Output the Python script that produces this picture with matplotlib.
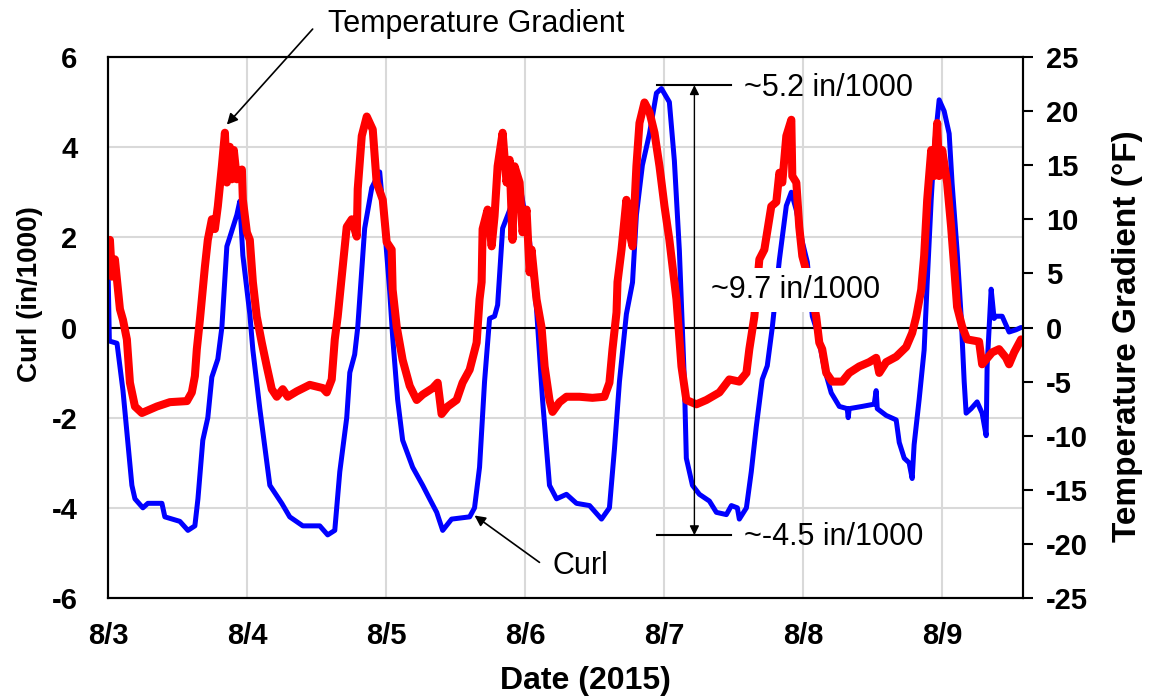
import numpy as np
import matplotlib.pyplot as plt

plt.rcParams['font.family'] = ['Liberation Sans', 'DejaVu Sans']
plt.rcParams['axes.unicode_minus'] = False

# time in days since 8/3 00:00
curl_t = [0.0, 0.01, 0.065, 0.108, 0.172, 0.194, 0.251, 0.287, 0.388, 0.409,
          0.517, 0.575, 0.625, 0.647, 0.682, 0.718, 0.747, 0.790, 0.819, 0.855,
          0.876, 0.927, 0.948, 0.970, 1.020, 1.042, 1.092, 1.164, 1.250, 1.307,
          1.401, 1.523, 1.580, 1.631, 1.667, 1.717, 1.739, 1.774, 1.796, 1.846,
          1.897, 1.954, 1.990, 2.026, 2.047, 2.083, 2.119, 2.191, 2.263, 2.313,
          2.364, 2.407, 2.471, 2.601, 2.636, 2.672, 2.708, 2.744, 2.780, 2.802,
          2.838, 2.888, 2.960, 3.032, 3.082, 3.125, 3.175, 3.226, 3.297, 3.369,
          3.463, 3.549, 3.606, 3.642, 3.678, 3.728, 3.772, 3.800, 3.843, 3.894,
          3.944, 3.980, 4.037, 4.073, 4.109, 4.131, 4.145, 4.159, 4.203, 4.253,
          4.325, 4.375, 4.447, 4.483, 4.526, 4.540, 4.591, 4.626, 4.662, 4.705,
          4.741, 4.777, 4.828, 4.878, 4.914, 4.950, 4.993, 5.029, 5.065, 5.101,
          5.151, 5.201, 5.259, 5.316, 5.323, 5.330, 5.424, 5.510, 5.524, 5.532,
          5.596, 5.668, 5.690, 5.726, 5.761, 5.783, 5.797, 5.833, 5.869, 5.891,
          5.920, 5.941, 5.977, 6.013, 6.049, 6.070, 6.106, 6.135, 6.157, 6.171,
          6.207, 6.250, 6.286, 6.315, 6.322, 6.351, 6.372, 6.386, 6.430, 6.480,
          6.530, 6.566]
curl = [1.4, -0.3, -0.35, -1.4, -3.5, -3.8, -4.0, -3.9, -3.9, -4.2,
        -4.3, -4.5, -4.4, -3.8, -2.5, -2.0, -1.1, -0.7, 0.0, 1.8,
        2.0, 2.5, 2.8, 1.6, 0.3, -0.5, -1.8, -3.5, -3.9, -4.2,
        -4.4, -4.4, -4.6, -4.5, -3.2, -2.0, -1.0, -0.6, 0.0, 2.2,
        3.1, 3.45, 2.2, 0.8, -0.2, -1.6, -2.5, -3.1, -3.5, -3.8,
        -4.1, -4.5, -4.25, -4.2, -4.0, -3.1, -1.2, 0.2, 0.25, 0.5,
        2.2, 2.6, 3.2, 1.9, 0.4, -1.6, -3.5, -3.8, -3.7, -3.9,
        -3.95, -4.25, -4.0, -2.7, -1.2, 0.3, 1.0, 2.5, 3.6, 4.3,
        5.2, 5.3, 5.0, 3.7, 1.7, -0.1, -1.2, -2.9, -3.5, -3.7,
        -3.85, -4.1, -4.15, -3.95, -4.0, -4.25, -4.0, -3.2, -2.2, -1.15,
        -0.85, 0.0, 1.5, 2.7, 3.0, 2.6, 1.9, 1.45, 0.25, -0.1,
        -0.9, -1.45, -1.75, -1.8, -2.0, -1.8, -1.75, -1.7, -1.4, -1.8,
        -1.95, -2.05, -2.55, -2.9, -3.0, -3.35, -2.6, -1.6, -0.5, 1.0,
        2.85, 3.95, 5.05, 4.8, 4.3, 3.2, 1.7, 0.25, -1.2, -1.9,
        -1.8, -1.65, -1.9, -2.4, -0.85, 0.85, 0.2, 0.25, 0.25, -0.1,
        -0.05, 0.0]

temp_t = [0.0, 0.014, 0.029, 0.050, 0.086, 0.108, 0.136, 0.158, 0.194, 0.244,
          0.352, 0.445, 0.568, 0.603, 0.625, 0.639, 0.661, 0.697, 0.718, 0.747,
          0.769, 0.790, 0.819, 0.841, 0.855, 0.876, 0.891, 0.905, 0.927, 0.963,
          0.970, 0.999, 1.020, 1.042, 1.070, 1.106, 1.142, 1.178, 1.214, 1.257,
          1.293, 1.358, 1.451, 1.545, 1.573, 1.609, 1.631, 1.652, 1.688, 1.717,
          1.753, 1.789, 1.796, 1.825, 1.861, 1.904, 1.932, 1.976, 2.004, 2.040,
          2.047, 2.076, 2.119, 2.170, 2.220, 2.263, 2.335, 2.371, 2.399, 2.443,
          2.507, 2.550, 2.601, 2.651, 2.672, 2.687, 2.694, 2.730, 2.759, 2.780,
          2.802, 2.838, 2.866, 2.888, 2.909, 2.924, 2.960, 2.981, 3.010, 3.032,
          3.046, 3.082, 3.118, 3.140, 3.175, 3.197, 3.247, 3.297, 3.391, 3.484,
          3.570, 3.606, 3.628, 3.657, 3.664, 3.693, 3.728, 3.750, 3.772, 3.800,
          3.822, 3.858, 3.894, 3.930, 3.966, 4.002, 4.037, 4.088, 4.124, 4.159,
          4.231, 4.303, 4.397, 4.468, 4.540, 4.591, 4.612, 4.648, 4.684, 4.720,
          4.770, 4.806, 4.828, 4.849, 4.878, 4.914, 4.921, 4.950, 4.971, 4.993,
          5.043, 5.093, 5.115, 5.136, 5.165, 5.208, 5.280, 5.330, 5.402, 5.474,
          5.524, 5.546, 5.596, 5.668, 5.740, 5.783, 5.812, 5.848, 5.869, 5.891,
          5.920, 5.941, 5.963, 5.977, 5.999, 6.034, 6.063, 6.085, 6.106, 6.142,
          6.178, 6.264, 6.286, 6.358, 6.408, 6.458, 6.480, 6.516, 6.566]
temp = [7.9, 8.1, 4.7, 6.3, 1.7, 0.7, -1.1, -5.1, -7.3, -7.9,
        -7.3, -6.9, -6.8, -6.0, -4.5, -2.0, 0.7, 5.6, 8.1, 10.0,
        9.1, 11.2, 14.9, 18.0, 13.4, 16.7, 13.7, 16.4, 13.7, 14.6,
        11.8, 8.8, 8.1, 4.2, 1.0, -1.4, -3.6, -5.7, -6.4, -5.7,
        -6.4, -5.9, -5.3, -5.6, -6.0, -4.8, -1.1, 1.0, 5.6, 9.3,
        10.0, 8.4, 12.8, 17.7, 19.5, 18.3, 13.4, 11.8, 7.9, 7.2,
        3.5, 0.1, -3.0, -5.4, -6.7, -6.2, -5.6, -5.1, -8.0, -7.3,
        -6.7, -5.1, -3.9, -1.4, 2.6, 4.2, 9.1, 10.9, 7.5, 10.3,
        14.9, 18.0, 13.4, 15.5, 8.1, 14.9, 13.4, 8.8, 10.9, 5.1,
        7.2, 2.6, 0.0, -3.6, -6.7, -7.8, -6.9, -6.4, -6.4, -6.5,
        -6.4, -5.1, -2.0, 1.4, 4.2, 7.2, 11.8, 8.8, 7.5, 14.9,
        18.9, 20.8, 19.9, 18.0, 14.9, 11.2, 8.1, 2.6, -3.6, -6.7,
        -7.1, -6.7, -6.0, -4.8, -5.0, -4.2, -2.0, 1.0, 6.3, 7.2,
        11.2, 11.6, 14.3, 13.4, 17.7, 19.2, 14.0, 13.4, 9.3, 6.6,
        4.2, 1.0, -1.4, -2.0, -4.2, -5.0, -5.0, -4.2, -3.6, -3.2,
        -2.8, -4.2, -3.2, -2.7, -1.8, -0.5, 1.0, 3.5, 6.6, 11.8,
        16.4, 14.0, 18.9, 14.0, 16.4, 13.4, 9.3, 5.6, 1.9, 0.1,
        -1.1, -1.3, -3.4, -2.3, -2.0, -2.8, -3.4, -2.3, -1.1]

day_labels = ['8/3', '8/4', '8/5', '8/6', '8/7', '8/8', '8/9']

fig = plt.figure(figsize=(11.51, 6.96), dpi=100)
ax = fig.add_axes([0.0938, 0.1408, 0.7950, 0.7773])
ax2 = ax.twinx()

ax.set_xlim(0, 6.58)
ax.set_ylim(-6, 6)
ax2.set_ylim(-25, 25)

ax.grid(True, color='#d9d9d9', lw=1.5)
ax.set_axisbelow(True)
ax.axhline(0, color='black', lw=1.5, zorder=1)

ax.plot(curl_t, curl, color='#0000ff', lw=3.6, solid_capstyle='round', solid_joinstyle='round')
ax2.plot(temp_t, temp, color='#ff0000', lw=5.8, solid_capstyle='round', solid_joinstyle='round')

ax.set_xticks(range(7))
ax.set_xticklabels(day_labels)
ax.set_yticks(range(-6, 7, 2))
ax2.set_yticks(range(-25, 26, 5))
ax.tick_params(axis='x', length=0, labelsize=21, pad=17)
ax.tick_params(axis='y', length=0, labelsize=21, pad=22)
ax2.tick_params(axis='y', length=7.2, width=1.5, labelsize=21, pad=9.5)
for lab in ax.get_xticklabels() + ax.get_yticklabels() + ax2.get_yticklabels():
    lab.set_fontweight('bold')

for a in (ax, ax2):
    for s in a.spines.values():
        s.set_linewidth(1.5)

ax.set_xlabel('Date (2015)', fontsize=23, fontweight='bold')
ax.xaxis.set_label_coords(0.522, -0.125)
ax.set_ylabel('Curl (in/1000)', fontsize=20, fontweight='bold')
ax.yaxis.set_label_coords(-0.071, 0.562)
ax2.set_ylabel('Temperature Gradient (°F)', fontsize=24, fontweight='bold')
ax2.yaxis.set_label_coords(1.097, 0.484)

arrow = dict(arrowstyle='-|>', color='black', lw=1.2, shrinkA=0, shrinkB=0, mutation_scale=16)
ax.annotate('', xy=(0.855, 4.50), xytext=(1.472, 6.62), arrowprops=arrow, annotation_clip=False)
ax.text(1.580, 6.74, 'Temperature Gradient', fontsize=22, va='center', ha='left', clip_on=False)
ax.annotate('', xy=(2.636, -4.17), xytext=(3.103, -5.21), arrowprops=arrow)
ax.text(3.197, -5.30, 'Curl', fontsize=22, va='center', ha='left')

# range markers
ax2.set_zorder(ax.get_zorder() + 1)
ax2.patch.set_visible(False)
ax2.plot([3.951, 4.483], [22.4, 22.4], color='black', lw=1.5)
ax2.plot([3.951, 4.483], [-19.2, -19.2], color='black', lw=1.5)
ax2.annotate('', xy=(4.217, 22.4), xytext=(4.217, -19.2),
             arrowprops=dict(arrowstyle='<|-|>', color='black', lw=1.0, shrinkA=0, shrinkB=0, mutation_scale=14))
ax2.text(4.576, 22.1, '~5.2 in/1000', fontsize=22, va='center', ha='left')
ax2.text(4.576, -19.4, '~-4.5 in/1000', fontsize=22, va='center', ha='left')
ax2.text(4.339, 3.5, '~9.7 in/1000', fontsize=22, va='center', ha='left', zorder=5,
         bbox=dict(facecolor='white', edgecolor='none', pad=5))

plt.savefig('out.png', dpi=100)
plt.close(fig)
